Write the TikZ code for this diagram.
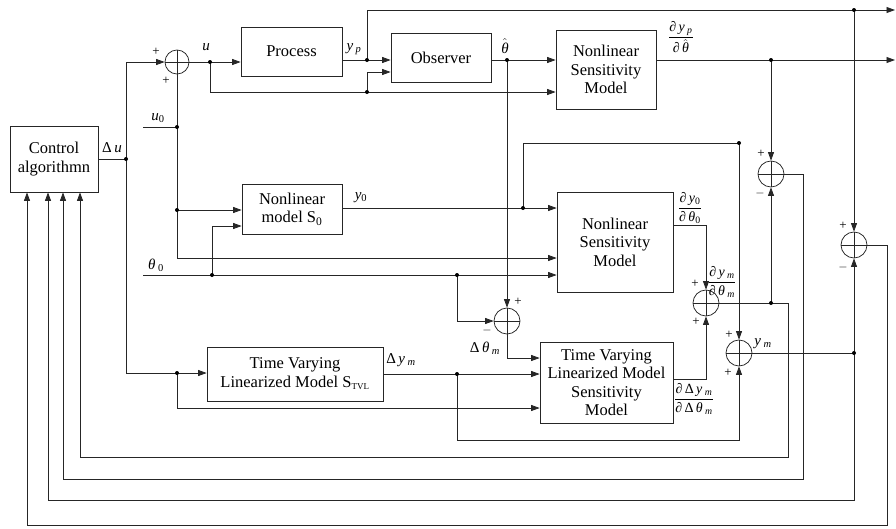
\documentclass[tikz,border=0pt]{standalone}
\usepackage{amsmath}
\usepackage{fontspec}
\setmainfont{Liberation Serif}
\usetikzlibrary{arrows.meta}
\newcommand{\iv}[1]{\textit{#1}}
\newcommand{\sbs}[1]{\textsubscript{#1}}
\begin{document}
\begin{tikzpicture}[x=1pt,y=-1pt,
  ln/.style={draw=black!85, line width=0.75pt},
  arr/.style={ln, -{Triangle[length=8.5pt,width=6pt]}},
  blk/.style={draw=black!85, line width=0.75pt, align=center, inner sep=0pt, font=\fontsize{16.5}{18.5}\selectfont},
  sumc/.style={circle, draw=black!85, line width=0.75pt, minimum size=26pt, inner sep=0pt,
    path picture={\draw[black!85, line width=0.75pt] (path picture bounding box.north) -- (path picture bounding box.south) (path picture bounding box.west) -- (path picture bounding box.east);}},
  lab/.style={font=\fontsize{15}{17}\selectfont, inner sep=0pt},
  frc/.style={font=\fontsize{14}{16}\selectfont, inner sep=0pt},
  sg/.style={font=\fontsize{13}{13}\selectfont, inner sep=0pt},
  dot/.style={circle, fill=black, minimum size=4pt, inner sep=0pt}
]
\useasboundingbox (0,0) rectangle (896,528);
% blocks
\node[blk, minimum width=88pt, minimum height=66pt] (ctrl) at (54,159) {Control\\algorithmn};
\node[blk, minimum width=101pt, minimum height=49pt] (proc) at (291.5,51.5) {Process};
\node[blk, minimum width=100pt, minimum height=49pt] (obs) at (441,57.5) {Observer};
\node[blk, minimum width=100pt, minimum height=79pt] (nsm1) at (606,69.5) {Nonlinear\\Sensitivity\\Model};
\node[blk, minimum width=100pt, minimum height=50pt] (s0) at (292,209) {Nonlinear\\model S\sbs{0}};
\node[blk, minimum width=116pt, minimum height=100pt] (nsm2) at (615,242) {Nonlinear\\Sensitivity\\Model};
\node[blk, minimum width=176pt, minimum height=54pt] (tvl) at (295,374) {Time Varying\\Linearized Model S\sbs{\fontsize{9}{9}\selectfont TVL}};
\node[blk, minimum width=133pt, minimum height=81pt] (tvls) at (606.5,382.5) {Time Varying\\Linearized Model\\Sensitivity\\Model};
% summing junctions
\node[sumc, minimum size=24pt] (s1) at (177,62) {};
\node[sumc] (sdt) at (507,321) {};
\node[sumc] (sA) at (771,174) {};
\node[sumc] (sB) at (854,245) {};
\node[sumc] (sC) at (706,303) {};
\node[sumc] (sD) at (739,353) {};
% coordinates
\coordinate (jdu) at (126,159);
\coordinate (jtop) at (126,62);
\coordinate (jbot) at (126,373);
\coordinate (ju0) at (177,127);
\coordinate (u0s) at (143,127);
\coordinate (jS0a) at (177,210);
\coordinate (c258) at (177,258);
\coordinate (th0s) at (143,275);
\coordinate (jth0a) at (212,275);
\coordinate (c226) at (212,226);
\coordinate (jth0b) at (457,275);
\coordinate (c321) at (457,321);
\coordinate (ju) at (210,62);
\coordinate (c92) at (210,92);
\coordinate (ju2) at (367,92);
\coordinate (c72) at (367,72);
\coordinate (jyp) at (367,60);
\coordinate (c10) at (367,10);
\coordinate (e10) at (895,10);
\coordinate (j10) at (854,10);
\coordinate (jth) at (507,60);
\coordinate (c358) at (507,358);
\coordinate (e60) at (895,60);
\coordinate (jdp) at (771,60);
\coordinate (jy0) at (523,208);
\coordinate (c143) at (523,143);
\coordinate (j143) at (739,143);
\coordinate (c225) at (706,225);
\coordinate (c379) at (706,379);
\coordinate (jC) at (771,303);
\coordinate (cC) at (788,303);
\coordinate (f4r) at (788,457);
\coordinate (f4l) at (80,457);
\coordinate (cA) at (803,174);
\coordinate (f3r) at (803,479);
\coordinate (f3l) at (63,479);
\coordinate (jym) at (854,353);
\coordinate (f2r) at (854,500);
\coordinate (f2l) at (48,500);
\coordinate (cB) at (887,245);
\coordinate (f1r) at (887,525);
\coordinate (f1l) at (27,525);
\coordinate (jtvl) at (177,373);
\coordinate (c408) at (177,408);
\coordinate (jdy) at (457,374);
\coordinate (c440) at (457,440);
\coordinate (d440) at (739,440);
% connectors
\draw[ln] (ctrl.east) -- (jdu);
\draw[arr] (jbot) -- (jtop) -- (s1.west);
\draw[ln] (u0s) -- (ju0);
\draw[ln] (s1.south) -- (c258);
\draw[arr] (c258) -- (c258 -| nsm2.west);
\draw[arr] (jS0a) -- (jS0a -| s0.west);
\draw[arr] (th0s) -- (th0s -| nsm2.west);
\draw[arr] (jth0a) -- (c226) -- (c226 -| s0.west);
\draw[arr] (jth0b) -- (c321) -- (sdt.west);
\draw[arr] (s1.east) -- (ju -| proc.west);
\draw[arr] (ju) -- (c92) -- (c92 -| nsm1.west);
\draw[arr] (ju2) -- (c72) -- (c72 -| obs.west);
\draw[arr] (jyp -| proc.east) -- (jyp -| obs.west);
\draw[arr] (jyp) -- (c10) -- (e10);
\draw[arr] (j10) -- (sB.north);
\draw[arr] (jth -| obs.east) -- (jth -| nsm1.west);
\draw[arr] (jth) -- (sdt.north);
\draw[arr] (sdt.south) -- (c358) -- (c358 -| tvls.west);
\draw[arr] (e60 -| nsm1.east) -- (e60);
\draw[arr] (jdp) -- (sA.north);
\draw[arr] (jy0 -| s0.east) -- (jy0 -| nsm2.west);
\draw[arr] (jy0) -- (c143) -- (j143) -- (sD.north);
\draw[arr] (c225 -| nsm2.east) -- (c225) -- (sC.north);
\draw[arr] (c379 -| tvls.east) -- (c379) -- (sC.south);
\draw[arr] (sC.east) -- (cC) -- (f4r) -- (f4l) -- (f4l |- ctrl.south);
\draw[arr] (jC) -- (sA.south);
\draw[arr] (sA.east) -- (cA) -- (f3r) -- (f3l) -- (f3l |- ctrl.south);
\draw[arr] (sD.east) -- (jym) -- (f2r) -- (f2l) -- (f2l |- ctrl.south);
\draw[arr] (jym) -- (sB.south);
\draw[arr] (sB.east) -- (cB) -- (f1r) -- (f1l) -- (f1l |- ctrl.south);
\draw[arr] (jbot) -- (jbot -| tvl.west);
\draw[arr] (jtvl) -- (c408) -- (c408 -| tvls.west);
\draw[arr] (jdy -| tvl.east) -- (jdy -| tvls.west);
\draw[arr] (jdy) -- (c440) -- (d440) -- (sD.south);
% dots
\foreach \p in {jdu,ju0,jS0a,jth0a,jth0b,ju,ju2,jyp,j10,jth,jdp,jy0,j143,jC,jym,jtvl,jdy}
  \node[dot] at (\p) {};
% labels
\node[lab] at (112,148) {Δ\,\iv{u}};
\node[lab] at (206,47) {\iv{u}};
\node[lab] at (158,118) {\iv{u}\sbs{0}};
\node[lab] at (354,49) {\iv{y}\,\sbs{\iv{p}}};
\node[lab] at (505,46) {$\hat{\text{\itshape θ}}$};
\node[lab] at (361,198) {\iv{y}\sbs{0}};
\node[lab] at (156,265) {\iv{θ}\,\sbs{0}};
\node[lab] at (485,348) {Δ\,\iv{θ}\,\sbs{\iv{m}}};
\node[lab] at (401,360) {Δ\,\iv{y}\,\sbs{\iv{m}}};
\node[lab] at (763,344) {\iv{y}\,\sbs{\iv{m}}};
\node[frc] at (681,37) {$\dfrac{\text{∂\,\itshape y\,\textsubscript{p}}}{\text{∂\,}\hat{\text{\itshape θ}}}$};
\node[frc] at (690,208) {$\dfrac{\text{∂\,\itshape y\textsubscript{\upshape 0}}}{\text{∂\,\itshape θ\textsubscript{\upshape 0}}}$};
\node[frc] at (722,282) {$\dfrac{\text{∂\,\itshape y\,\textsubscript{m}}}{\text{∂\,\itshape θ\,\textsubscript{m}}}$};
\node[frc] at (694,399) {$\dfrac{\text{∂\,Δ\,\itshape y\,\textsubscript{m}}}{\text{∂\,Δ\,\itshape θ\,\textsubscript{m}}}$};
% signs
\node[sg] at (156,52) {+}; \node[sg] at (166,81) {+};
\node[sg] at (518,302) {+}; \node[sg] at (487,330) {$-$};
\node[sg] at (761,154) {+}; \node[sg] at (760,193) {$-$};
\node[sg] at (843,226) {+}; \node[sg] at (843,267) {$-$};
\node[sg] at (695,284) {+}; \node[sg] at (696,322) {+};
\node[sg] at (729,335) {+}; \node[sg] at (728,373) {+};
\end{tikzpicture}
\end{document}
